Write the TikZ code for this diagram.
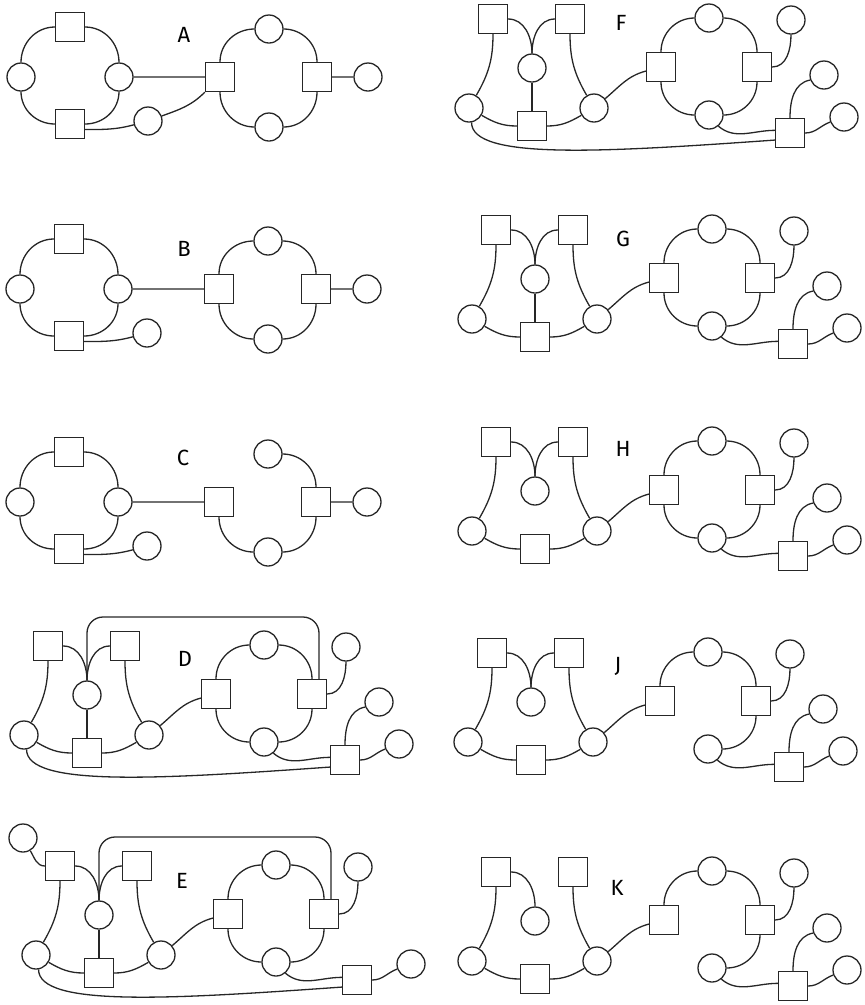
\documentclass[tikz,border=0pt]{standalone}
\usepackage{fontspec}
\setmainfont{Fira Sans}
\begin{document}
\begin{tikzpicture}[x=1pt,y=1pt,line width=1.3pt,color=black!85,
		sq/.style={draw,rectangle,minimum size=29pt,inner sep=0pt},
		cir/.style={draw,circle,minimum size=28pt,inner sep=0pt},
		lbl/.style={text=black,font=\fontsize{22}{22}\selectfont}]
	\useasboundingbox (0,0) rectangle (865,-1005);
	% panels A, B, C: two rings
	\foreach \pn/\x/\y in {A/70/-27,B/69/-239,C/69/-452}{
		\begin{scope}[shift={(\x,\y)}]
			\node[sq]  (\pn-t) at (0,0) {};
			\node[cir] (\pn-l) at (-49,-50) {};
			\node[cir] (\pn-r) at (49,-50) {};
			\node[sq]  (\pn-b) at (0,-97) {};
			\node[cir] (\pn-p) at (78,-94) {};
			\node[sq]  (\pn-s) at (150,-50) {};
			\node[cir] (\pn-u) at (199,-2) {};
			\node[cir] (\pn-d) at (199,-100) {};
			\node[sq]  (\pn-e) at (247,-50) {};
			\node[cir] (\pn-o) at (298,-50) {};
		\end{scope}
		\draw (\pn-t.west) to[out=180,in=90] (\pn-l.north)
			(\pn-l.south) to[out=-90,in=180] (\pn-b.west)
			(\pn-b.east) to[out=0,in=-90] (\pn-r.south)
			(\pn-r.north) to[out=90,in=0] (\pn-t.east)
			(\pn-r.east) -- (\pn-s.west)
			(\pn-b.-20) to[out=0,in=195] (\pn-p.195)
			(\pn-s.south) to[out=-90,in=180] (\pn-d.west)
			(\pn-d.east) to[out=0,in=-90] (\pn-e.south)
			(\pn-e.north) to[out=90,in=0] (\pn-u.east)
			(\pn-e.east) -- (\pn-o.west);
	}
	\foreach \pn in {A,B} \draw (\pn-s.north) to[out=90,in=180] (\pn-u.west);
	\draw (A-p.20) to[out=20,in=225] (A-s.south west);
	% panels D to K: the tree
	\foreach \pn/\x/\y in {D/48/-646,E/60/-866,F/493/-19,G/496/-230,H/496/-442,J/492/-653,K/496/-872}{
		\begin{scope}[shift={(\x,\y)}]
			\node[sq]  (\pn-q1) at (0,0) {};
			\node[sq]  (\pn-q2) at (77,0) {};
			\node[cir] (\pn-m)  at (39,-49) {};
			\node[cir] (\pn-l)  at (-24,-89) {};
			\node[sq]  (\pn-b)  at (39,-107) {};
			\node[cir] (\pn-r)  at (101,-89) {};
			\node[sq]  (\pn-s)  at (168,-48) {};
			\node[cir] (\pn-u)  at (216,1) {};
			\node[sq]  (\pn-e)  at (264,-48) {};
			\node[cir] (\pn-d)  at (216,-96) {};
			\node[cir] (\pn-p1) at (298,-1) {};
			\node[sq]  (\pn-q3) at (297,-114) {};
			\node[cir] (\pn-p3) at (351,-98) {};
		\end{scope}
		\draw (\pn-q1.south) to[out=-90,in=60] (\pn-l.60)
			(\pn-q2.south) to[out=-90,in=120] (\pn-r.120)
			(\pn-l.-30) to[out=-30,in=180] (\pn-b.west)
			(\pn-b.east) to[out=0,in=-150] (\pn-r.-150)
			(\pn-r.40) to[out=40,in=195] (\pn-s.195)
			(\pn-q1.east) to[out=0,in=90] (\pn-m.north)
			(\pn-s.north) to[out=90,in=180] (\pn-u.west)
			(\pn-u.east) to[out=0,in=90] (\pn-e.north)
			(\pn-e.south) to[out=-90,in=0] (\pn-d.east)
			(\pn-e.east) to[out=0,in=-90] (\pn-p1.south)
			(\pn-d.-50) to[out=-40,in=180] (\pn-q3.170)
			(\pn-q3.east) to[out=0,in=200] (\pn-p3.200);
	}
	\foreach \pn in {D,F,G,H,J,K}{
		\node[cir] (\pn-p2) at ([shift={(34,58)}]\pn-q3) {};
		\draw (\pn-q3.north) to[out=90,in=190] (\pn-p2.200);
	}
	\foreach \pn in {D,E,F,G,H,J} \draw (\pn-q2.west) to[out=180,in=90] (\pn-m.north);
	\foreach \pn in {D,E,F,G} \draw (\pn-m) -- (\pn-b);
	\foreach \pn in {D,E,F,G,H} \draw (\pn-d.west) to[out=180,in=-90] (\pn-s.south);
	\foreach \pn in {D,E,F} \draw (\pn-l.-80) .. controls +(0,-38) and +(-170,-12) .. (\pn-q3.205);
	\foreach \pn in {D,E}{
		\coordinate (\pn-top) at ([shift={(271,29)}]\pn-q1);
		\draw[rounded corners=16pt] (\pn-m.north) |- (\pn-top) -- (\pn-top |- \pn-e.north);
	}
	\node[cir] (E-p0) at (23,-838) {};
	\draw (E-q1.west) to[out=180,in=-60] (E-p0.-60);
	% labels
	\node[lbl] (A-lbl) at (184,-35) {A};
	\node[lbl] (B-lbl) at (184,-249) {B};
	\node[lbl] (C-lbl) at (183,-458) {C};
	\node[lbl] (D-lbl) at (185,-659) {D};
	\node[lbl] (E-lbl) at (182,-881) {E};
	\node[lbl] (F-lbl) at (621,-23) {F};
	\node[lbl] (G-lbl) at (623,-239) {G};
	\node[lbl] (H-lbl) at (623,-449) {H};
	\node[lbl] (J-lbl) at (618,-666) {J};
	\node[lbl] (K-lbl) at (617,-888) {K};
\end{tikzpicture}
\end{document}
